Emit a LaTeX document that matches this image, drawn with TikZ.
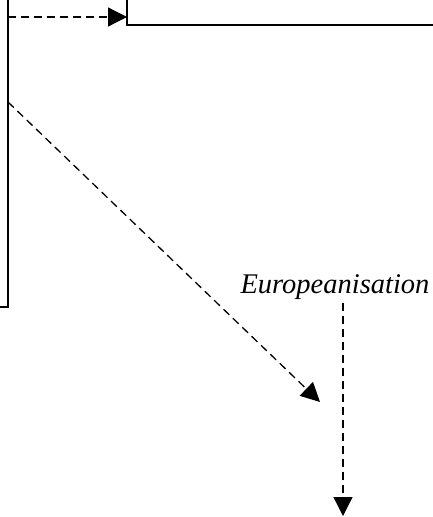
\documentclass[tikz,border=0pt]{standalone}
\usepackage{fontspec}
\setmainfont{Liberation Serif}
\usetikzlibrary{arrows.meta}

\begin{document}
\begin{tikzpicture}[x=1pt,y=-1pt,
  wall/.style={line width=2pt},
  dasharrow/.style={dash pattern=on 8pt off 5pt,line width=1.3pt,
    -{Triangle[length=19pt,width=19pt]}}]
  \useasboundingbox (0,0) rectangle (433,517);
  \coordinate (Lt) at (8,0);
  \coordinate (Lb) at (8,307);
  \coordinate (Lo) at (0,307);
  \coordinate (Rt) at (127,0);
  \coordinate (Rb) at (127,25);
  \coordinate (Ro) at (433,25);
  \draw[wall] (Lt) -- (Lb) -- (Lo);
  \draw[wall] (Rt) -- (Rb) -- (Ro);
  \coordinate (Aa) at (8,17);
  \coordinate (Bb) at (127,17);
  \coordinate (Cc) at (8,102);
  \coordinate (Dd) at (320,402);
  \draw[dasharrow] (Aa) -- (Bb);
  \draw[dasharrow] (Cc) -- (Dd);
  \node[font=\itshape\fontsize{28.5}{30}\selectfont,inner sep=0pt,anchor=base]
    (euro) at (335,293) {Europeanisation};
  \coordinate (Ee) at (343,303);
  \coordinate (Ff) at (343,516);
  \draw[dasharrow] (Ee) -- (Ff);
\end{tikzpicture}
\end{document}
